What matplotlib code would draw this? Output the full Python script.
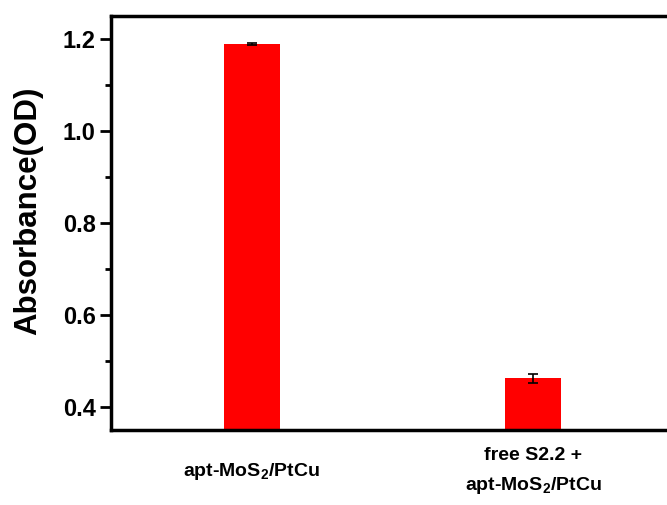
import numpy as np
import matplotlib
matplotlib.use("Agg")
import matplotlib.pyplot as plt

plt.rcParams['font.family'] = ['Liberation Sans', 'DejaVu Sans']
plt.rcParams['mathtext.fontset'] = 'custom'
plt.rcParams['mathtext.rm'] = 'Liberation Sans:bold'
plt.rcParams['mathtext.bf'] = 'Liberation Sans:bold'

labels = [r'apt-MoS$_\mathbf{2}$/PtCu', 'free S2.2 +\n' + r'apt-MoS$_\mathbf{2}$/PtCu']
values = [1.189, 0.462]
errors = [0.002, 0.009]

fig = plt.figure(figsize=(6.67, 5.05), dpi=100)
ax = fig.add_axes([0.1664, 0.1485, 0.844, 0.8208])

x = np.arange(1, len(values) + 1)
ax.bar(x, values, width=0.2, color='#ff0000', yerr=errors,
       error_kw=dict(ecolor='black', elinewidth=1.2, capsize=3.5, capthick=1.2))

ax.set_xlim(0.5, 2.5)
ax.set_ylim(0.35, 1.25)
ax.set_yticks([0.4, 0.6, 0.8, 1.0, 1.2])
ax.set_yticks([0.5, 0.7, 0.9, 1.1], minor=True)
ax.set_xticks(x)
ax.set_xticklabels(labels, fontsize=14, fontweight='bold', linespacing=1.7, va='center')
ax.tick_params(axis='x', length=0, pad=30)
ax.tick_params(axis='y', which='major', length=8, width=2, labelsize=17, pad=3)
ax.tick_params(axis='y', which='minor', length=4, width=2)
for t in ax.get_yticklabels():
    t.set_fontweight('bold')
ax.set_ylabel('Absorbance(OD)', fontsize=22.5, fontweight='bold')
ax.yaxis.set_label_coords(-0.121, 0.528)

for s in ax.spines.values():
    s.set_linewidth(2.5)

fig.savefig('out.png', dpi=100)
